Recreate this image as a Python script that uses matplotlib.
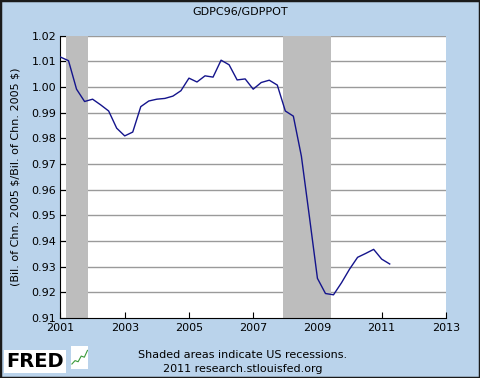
import matplotlib
matplotlib.use("Agg")
import matplotlib.pyplot as plt
import numpy as np
from matplotlib.patches import Rectangle

# quarterly ratio of real GDP to potential GDP, 2001Q1 .. 2011Q2
years = np.arange(2001, 2011.26, 0.25)
ratio = [1.0116, 1.0102, 0.9991, 0.9943, 0.9952, 0.9930, 0.9906, 0.9839,
         0.9809, 0.9824, 0.9923, 0.9945, 0.9952, 0.9955, 0.9964, 0.9985,
         1.0034, 1.0019, 1.0043, 1.0038, 1.0104, 1.0086, 1.0027, 1.0031,
         0.9991, 1.0017, 1.0026, 1.0007, 0.9906, 0.9886, 0.9730, 0.9494,
         0.9254, 0.9195, 0.9190, 0.9237, 0.9290, 0.9336, 0.9351, 0.9367,
         0.9329, 0.9310]
recessions = [(2001.17, 2001.87), (2007.92, 2009.42)]
xticks = [2001, 2003, 2005, 2007, 2009, 2011, 2013]
yticks = np.round(np.arange(0.91, 1.0201, 0.01), 2)
icon_y = [0.2, 0.35, 0.3, 0.55, 0.5, 0.8]

bg = "#bad3eb"
fig = plt.figure(figsize=(4.8, 3.78), dpi=100, facecolor=bg)
ax = fig.add_axes([0.126, 0.159, 0.803, 0.747])
ax.set_facecolor("white")

for y in yticks[1:]:
    ax.axhline(y, color="#9a9a9a", lw=1, zorder=1)
for a, b in recessions:
    ax.axvspan(a, b, color="#bdbdbd", lw=0, zorder=2)
ax.plot(years, ratio, color="#14148c", lw=1, zorder=3)

ax.set_xlim(2001, 2013)
ax.set_ylim(0.91, 1.02)
ax.set_xticks(xticks)
ax.set_yticks(yticks)
ax.set_yticklabels([f"{v:.2f}" for v in yticks])
ax.tick_params(direction="in", length=4, labelsize=8, colors="black")
ax.tick_params(axis="y", pad=3)
for s in ["top", "right"]:
    ax.spines[s].set_visible(False)

ax.set_ylabel(r"(Bil. of Chn. 2005 \$/Bil. of Chn. 2005 \$)", fontsize=8)
ax.yaxis.set_label_coords(-0.104, 0.5)

fig.text(0.5, 0.968, "GDPC96/GDPPOT", ha="center", va="center", fontsize=8)
fig.text(0.505, 0.06, "Shaded areas indicate US recessions.", ha="center",
         va="center", fontsize=8)
fig.text(0.505, 0.025, "2011 research.stlouisfed.org", ha="center",
         va="center", fontsize=8)
fig.text(0.012, 0.03, "FRED", fontsize=14, fontweight="bold", color="black",
         bbox=dict(facecolor="white", edgecolor="none", pad=1.5))

# small chart icon next to the logo
icon = fig.add_axes([0.148, 0.025, 0.036, 0.06])
icon.set_facecolor("white")
icon.plot(np.linspace(0.05, 0.95, len(icon_y)), icon_y, color="#3a9a3a", lw=0.8)
icon.set_xlim(0, 1)
icon.set_ylim(0, 1)
icon.set_xticks([])
icon.set_yticks([])
for s in icon.spines.values():
    s.set_visible(False)

fig.patches.append(Rectangle((0, 0), 1, 1, transform=fig.transFigure,
                             fill=False, edgecolor="#1a1a1a", lw=2.5))

fig.savefig("out.png", dpi=100, facecolor=bg)
